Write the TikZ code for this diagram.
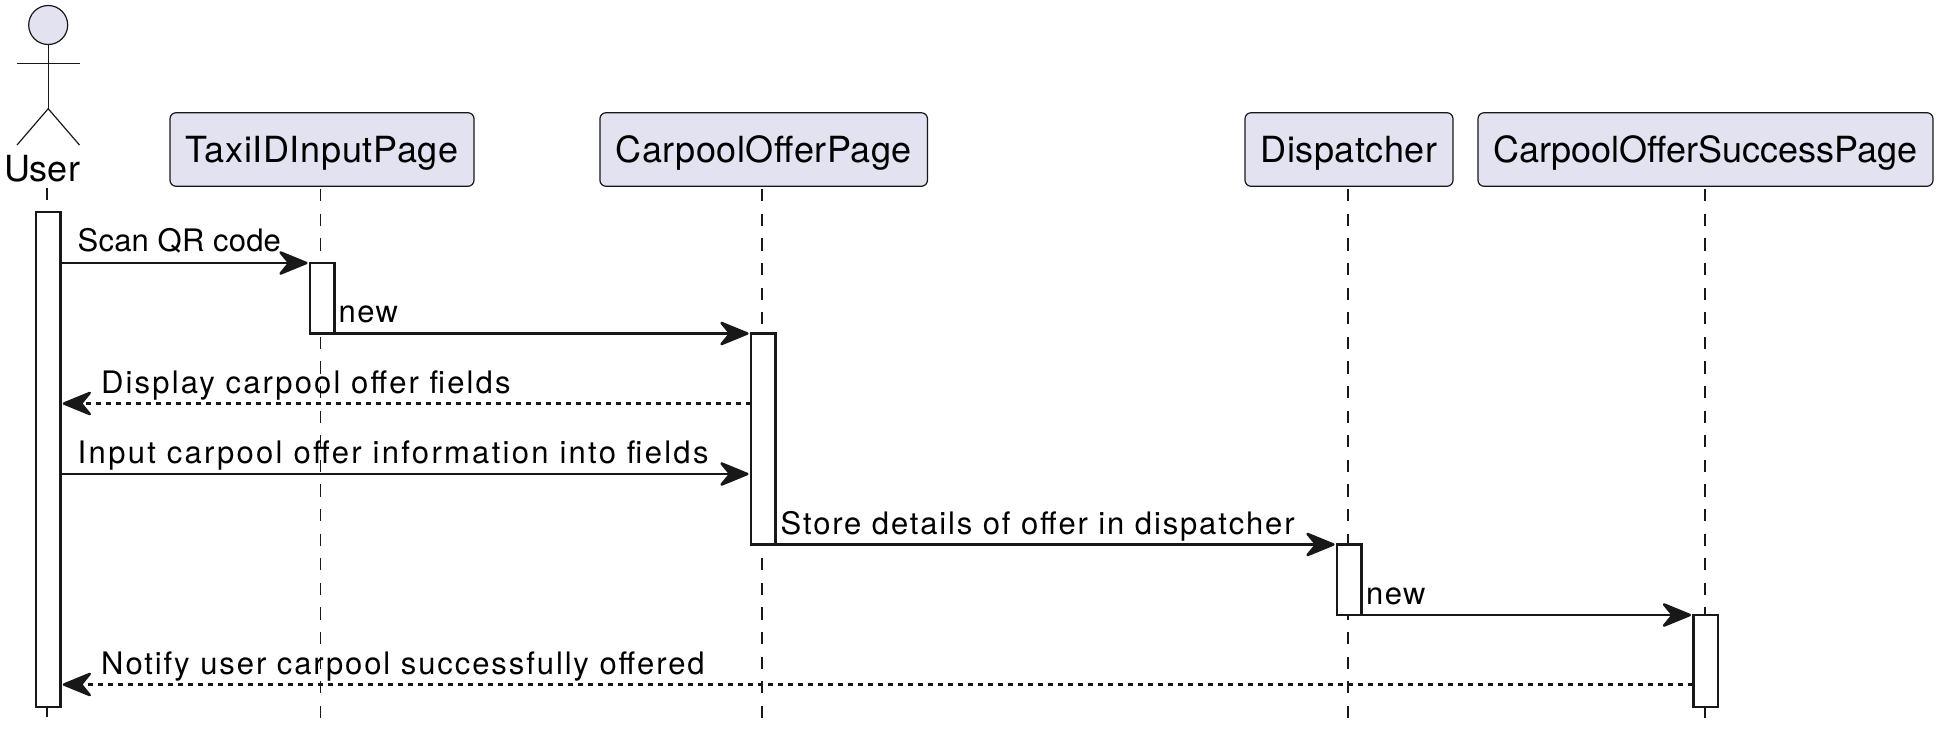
\documentclass[tikz,border=0pt]{standalone}
\usepackage{fontspec}
\setmainfont{TeX Gyre Heros}
\usetikzlibrary{arrows.meta}
\definecolor{partfill}{HTML}{E2E2F0}
\definecolor{partline}{HTML}{181818}
\tikzset{
  partbox/.style={rectangle,draw=partline,fill=partfill,line width=1.2pt,rounded corners=6pt,minimum height=73.5pt,inner sep=0pt,text height=30pt,text depth=5pt,font=\fontsize{36}{40}\selectfont\addfontfeature{LetterSpace=#1}},
  lifeline/.style={draw=partline,line width=1.2pt,dash pattern=on 12.3pt off 12.3pt},
  actbar/.style={rectangle,draw=partline,fill=white,line width=2.5pt,minimum width=24.5pt,inner sep=0pt,outer sep=0pt},
  msgtext/.style={anchor=base west,inner sep=0pt,font=\fontsize{31}{36}\selectfont\addfontfeature{LetterSpace=#1}},
  msgline/.style={draw=partline,line width=2.5pt,shorten >=2.2pt,-{Stealth[length=33pt,width=27pt,inset=11pt,round,line width=2.5pt]}},
  msgback/.style={msgline,line width=2.2pt,dash pattern=on 5pt off 5pt},
  stick/.style={draw=partline,line width=1.2pt}
}
\begin{document}
\begin{tikzpicture}[x=1pt,y=-1pt]
\useasboundingbox (0,0) rectangle (1939,740);
\node[circle,draw=partline,fill=partfill,line width=1.2pt,minimum size=39pt,inner sep=0pt] (userHead) at (48.2,25) {};
\coordinate (userHip) at (48.2,108.7);
\coordinate (userArmL) at (17,63.5);
\coordinate (userArmR) at (79.5,63.5);
\coordinate (userFootL) at (17,145);
\coordinate (userFootR) at (79.5,145);
\draw[stick] (userHead.south) -- (userHip);
\draw[stick] (userArmL) -- (userArmR);
\draw[stick] (userFootL) -- (userHip) -- (userFootR);
\node[anchor=base,inner sep=0pt,font=\fontsize{36}{40}\selectfont] (user) at (42,181) {User};
\node[partbox=1.8,minimum width=304pt] (boxTaxi) at (322,149.5) {TaxiIDInputPage};
\node[partbox=1.5,minimum width=327.5pt] (boxCarpool) at (763.7,149.5) {CarpoolOfferPage};
\node[partbox=1.3,minimum width=208pt] (boxDispatcher) at (1349,149.5) {Dispatcher};
\node[partbox=0,minimum width=455pt] (boxSuccess) at (1705.5,149.5) {CarpoolOfferSuccessPage};
\coordinate (endUser) at (47,728);
\coordinate (endTaxi) at (320.5,728);
\coordinate (endCarpool) at (762,728);
\coordinate (endDispatcher) at (1348,728);
\coordinate (endSuccess) at (1705,728);
\draw[lifeline] (endUser |- user.south) ++(0,6) -- (endUser);
\draw[lifeline] (endTaxi |- boxTaxi.south) ++(0,2.3) -- (endTaxi);
\draw[lifeline] (endCarpool |- boxCarpool.south) ++(0,2.3) -- (endCarpool);
\draw[lifeline] (endDispatcher |- boxDispatcher.south) ++(0,2.3) -- (endDispatcher);
\draw[lifeline] (endSuccess |- boxSuccess.south) ++(0,2.3) -- (endSuccess);
\node[actbar,minimum height=495pt] (barUser) at (48.3,459.5) {};
\node[actbar,minimum height=70.5pt] (barTaxi) at (322,298.25) {};
\node[actbar,minimum height=211pt] (barCarpool) at (763,439) {};
\node[actbar,minimum height=70.5pt] (barDispatcher) at (1349,579.75) {};
\node[actbar,minimum height=92pt] (barSuccess) at (1705.5,661) {};
\coordinate (rowDisplay) at (0,403.5);
\coordinate (rowInput) at (0,474);
\coordinate (rowNotify) at (0,684.5);
\draw[msgline] (barUser.east |- barTaxi.north) -- (barTaxi.north west);
\draw[msgline] (barTaxi.south east) -- (barCarpool.north west);
\draw[msgback] (barCarpool.west |- rowDisplay) -- (barUser.east |- rowDisplay);
\draw[msgline] (barUser.east |- rowInput) -- (barCarpool.west |- rowInput);
\draw[msgline] (barCarpool.south east) -- (barDispatcher.north west);
\draw[msgline] (barDispatcher.south east) -- (barSuccess.north west);
\draw[msgback] (barSuccess.west |- rowNotify) -- (barUser.east |- rowNotify);
\node[msgtext=0.6] (lblScan) at (77.5,251.7) {Scan QR code};
\node[msgtext=4.6] (lblNew) at (338.5,322.5) {new};
\node[msgtext=6.9] (lblDisplay) at (101,393) {Display carpool offer fields};
\node[msgtext=7.4] (lblInput) at (77.5,463.5) {Input carpool offer information into fields};
\node[msgtext=6] (lblStore) at (780.5,534) {Store details of offer in dispatcher};
\node[msgtext=4.6] (lblNewTwo) at (1366,604.5) {new};
\node[msgtext=6.2] (lblNotify) at (101,674.5) {Notify user carpool successfully offered};
\end{tikzpicture}
\end{document}
